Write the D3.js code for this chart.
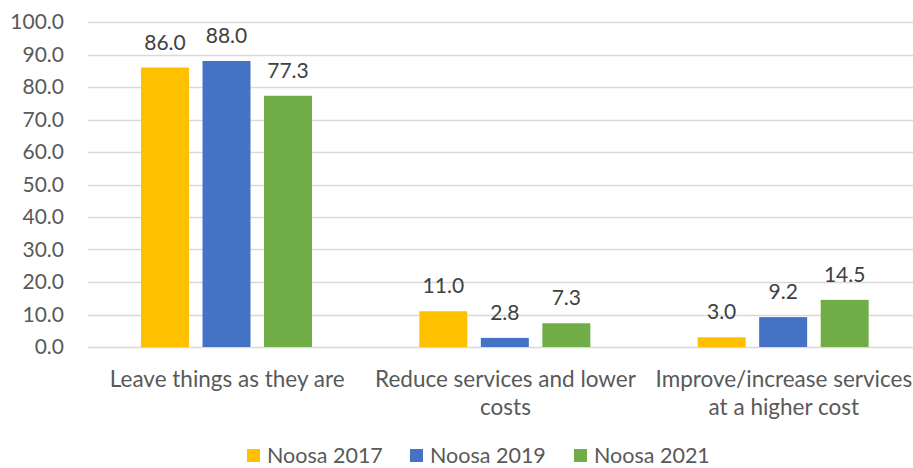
<!DOCTYPE html>
<html>
<head>
<meta charset="utf-8">
<script src="https://cdn.jsdelivr.net/npm/d3@7"></script>
<style>
  body { margin: 0; background: #fff; }
  text { font-family: Lato, "Open Sans", sans-serif; }
</style>
</head>
<body>
<svg width="913" height="468"></svg>
<script>
var categories = [
  ['Leave things as they are'],
  ['Reduce services and lower', 'costs'],
  ['Improve/increase services', 'at a higher cost']
];
var seriesNames = ['Noosa 2017', 'Noosa 2019', 'Noosa 2021'];
var noosa2017 = [86.0, 11.0, 3.0];
var noosa2019 = [88.0, 2.8, 9.2];
var noosa2021 = [77.3, 7.3, 14.5];
var yTicks = [0, 10, 20, 30, 40, 50, 60, 70, 80, 90, 100];
var colors = ['#FFC000', '#4472C4', '#70AD47'];

var seriesValues = [noosa2017, noosa2019, noosa2021];
var svg = d3.select('svg');

var scaleX0 = d3.scaleBand()
  .domain(d3.range(categories.length))
  .range([88, 923]);

var scaleX1 = d3.scaleBand()
  .domain(d3.range(seriesNames.length))
  .range([53, 224])
  .paddingInner(0.22);

var scaleY = d3.scaleLinear()
  .domain([0, 100])
  .range([347, 22]);

// grid lines
svg.append('g')
  .selectAll('line')
  .data(yTicks)
  .enter().append('line')
  .attr('x1', 88)
  .attr('x2', 913)
  .attr('y1', function(d) { return Math.round(scaleY(d)) + 0.5; })
  .attr('y2', function(d) { return Math.round(scaleY(d)) + 0.5; })
  .attr('stroke', '#d9d9d9')
  .attr('stroke-width', 1.3);

// y axis labels
var yAxis = d3.axisLeft(scaleY)
  .tickValues(yTicks)
  .tickFormat(d3.format('.1f'))
  .tickSize(0)
  .tickPadding(0);

var gy = svg.append('g')
  .attr('transform', 'translate(64,0)')
  .call(yAxis);
gy.select('.domain').remove();
gy.selectAll('text')
  .attr('fill', '#595959')
  .style('font-size', '21px')
  .style('font-family', 'Lato, sans-serif');

// bars
var groups = svg.append('g')
  .selectAll('g')
  .data(categories)
  .enter().append('g')
  .attr('transform', function(d, i) { return 'translate(' + scaleX0(i) + ',0)'; });

groups.selectAll('rect')
  .data(function(d, i) {
    return seriesValues.map(function(vals, s) { return { s: s, v: vals[i] }; });
  })
  .enter().append('rect')
  .attr('x', function(d) { return scaleX1(d.s); })
  .attr('y', function(d) { return scaleY(d.v); })
  .attr('width', scaleX1.bandwidth())
  .attr('height', function(d) { return scaleY(0) - scaleY(d.v); })
  .attr('fill', function(d) { return colors[d.s]; });

groups.selectAll('text.val')
  .data(function(d, i) {
    return seriesValues.map(function(vals, s) { return { s: s, v: vals[i] }; });
  })
  .enter().append('text')
  .attr('class', 'val')
  .attr('x', function(d) { return scaleX1(d.s) + scaleX1.bandwidth() / 2; })
  .attr('y', function(d) { return scaleY(d.v) - 18; })
  .attr('text-anchor', 'middle')
  .attr('fill', '#404040')
  .style('font-size', '21px')
  .text(function(d) { return d3.format('.1f')(d.v); });

// category labels
groups.append('text')
  .attr('x', scaleX0.bandwidth() / 2)
  .attr('y', 387)
  .attr('text-anchor', 'middle')
  .attr('fill', '#595959')
  .style('font-size', '22.5px')
  .selectAll('tspan')
  .data(function(d) { return d; })
  .enter().append('tspan')
  .attr('x', scaleX0.bandwidth() / 2)
  .attr('dy', function(d, i) { return i === 0 ? 0 : 28; })
  .text(function(d) { return d; });

// legend
var legendX = [247, 410, 574];
var legend = svg.append('g')
  .selectAll('g')
  .data(seriesNames)
  .enter().append('g')
  .attr('transform', function(d, i) { return 'translate(' + legendX[i] + ',449)'; });

legend.append('rect')
  .attr('width', 13)
  .attr('height', 13)
  .attr('fill', function(d, i) { return colors[i]; });

legend.append('text')
  .attr('x', 20)
  .attr('y', 14)
  .attr('fill', '#595959')
  .style('font-size', '21.5px')
  .text(function(d) { return d; });
</script>
</body>
</html>
